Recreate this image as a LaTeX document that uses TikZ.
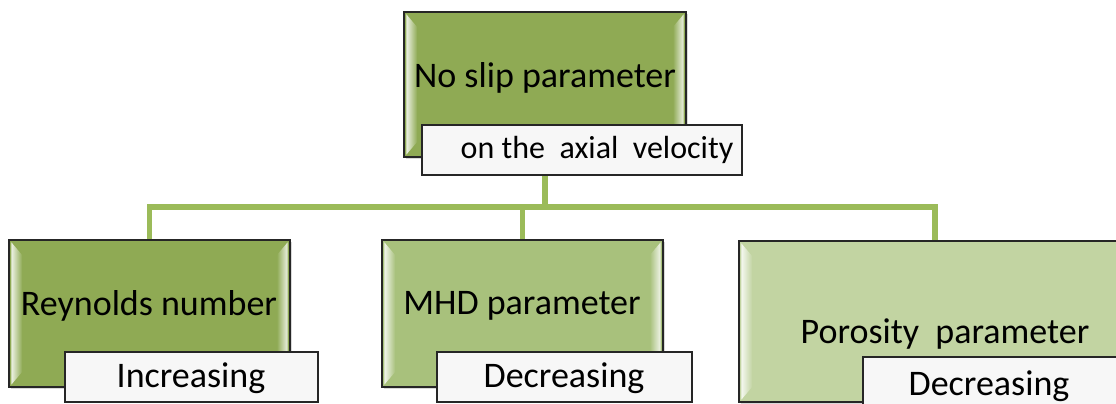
\documentclass[tikz,border=0pt]{standalone}
\usepackage{fontspec}
\setmainfont{Carlito}
\usetikzlibrary{fit,shadows,fadings,backgrounds}

\definecolor{olivedark}{RGB}{143,170,84}
\definecolor{olivemid}{RGB}{168,193,124}
\definecolor{olivelight}{RGB}{194,212,162}
\definecolor{linkgreen}{RGB}{155,187,89}

\tikzfading[name=fadeleft, left color=transparent!15, right color=transparent!100]
\tikzfading[name=faderight, left color=transparent!100, right color=transparent!15]

\tikzset{
    mainbox/.style={draw=black!85, line width=1.1pt, inner sep=0pt,
        drop shadow={shadow xshift=1.5pt, shadow yshift=-1.5pt, opacity=0.3}},
    tagbox/.style={draw=black!85, line width=1.1pt, inner sep=0pt, fill=white!97!black,
        drop shadow={shadow xshift=1pt, shadow yshift=-1pt, opacity=0.25}},
    bigtext/.style={anchor=base, font=\fontsize{27}{32}\selectfont},
    tagtext/.style={anchor=base, font=\fontsize{27}{32}\selectfont},
    link/.style={draw=linkgreen, line width=3.8pt},
}

% light strips on the inner left and right edges
\newcommand{\bevel}[1]{%
    \fill[white, path fading=fadeleft]
        ([shift={(3,3)}]#1.north west) -- ([shift={(14,16)}]#1.north west)
        -- ([shift={(14,-16)}]#1.south west) -- ([shift={(3,-3)}]#1.south west) -- cycle;
    \fill[white, path fading=faderight]
        ([shift={(-3,3)}]#1.north east) -- ([shift={(-14,16)}]#1.north east)
        -- ([shift={(-14,-16)}]#1.south east) -- ([shift={(-3,-3)}]#1.south east) -- cycle;
}

\begin{document}
\begin{tikzpicture}[x=0.75pt, y=-0.75pt]
    \useasboundingbox (0,0) rectangle (1116,403);
    \clip (0,0) rectangle (1116,403);

    % top box
    \node[mainbox, fill=olivedark, fit={(404,12) (686,157)}] (slip) {};
    \bevel{slip}
    \node[bigtext] (sliptxt) at (545,87) {No slip parameter};
    \node[tagbox, fit={(422,125) (742,175)}] (sliptag) {};
    \node[tagtext, font=\fontsize{24}{29}\selectfont] (sliptagtxt) at (597,158) {on the\ \ axial\ \ velocity};

    % lower boxes
    \node[mainbox, fill=olivedark, fit={(9,240) (290,387)}] (rey) {};
    \bevel{rey}
    \node[bigtext] (reytxt) at (149,315) {Reynolds number};
    \node[tagbox, fit={(65,352) (318,402)}] (reytag) {};
    \node[tagtext] (reytagtxt) at (191,387) {Increasing};

    \node[mainbox, fill=olivemid, fit={(382,240) (663,387)}] (mhd) {};
    \bevel{mhd}
    \node[bigtext] (mhdtxt) at (522,314) {MHD parameter};
    \node[tagbox, fit={(437,352) (692,402)}] (mhdtag) {};
    \node[tagtext] (mhdtagtxt) at (564,387) {Decreasing};

    \node[mainbox, fill=olivelight, fit={(739,241) (1131,402)}] (por) {};
    \bevel{por}
    \node[bigtext] (portxt) at (945,343) {Porosity\ \ parameter};
    \node[tagbox, fit={(863,357) (1125,412)}] (portag) {};
    \node[tagtext] (portagtxt) at (989,395) {Decreasing};

    % connectors
    \begin{scope}[on background layer]
        \coordinate (hub) at (545,207);
        \draw[link] (slip.south) -- (hub);
        \draw[link] (hub) -| (rey.north);
        \draw[link] (hub) -| (mhd.north);
        \draw[link] (hub) -| (por.north);
    \end{scope}
\end{tikzpicture}
\end{document}
